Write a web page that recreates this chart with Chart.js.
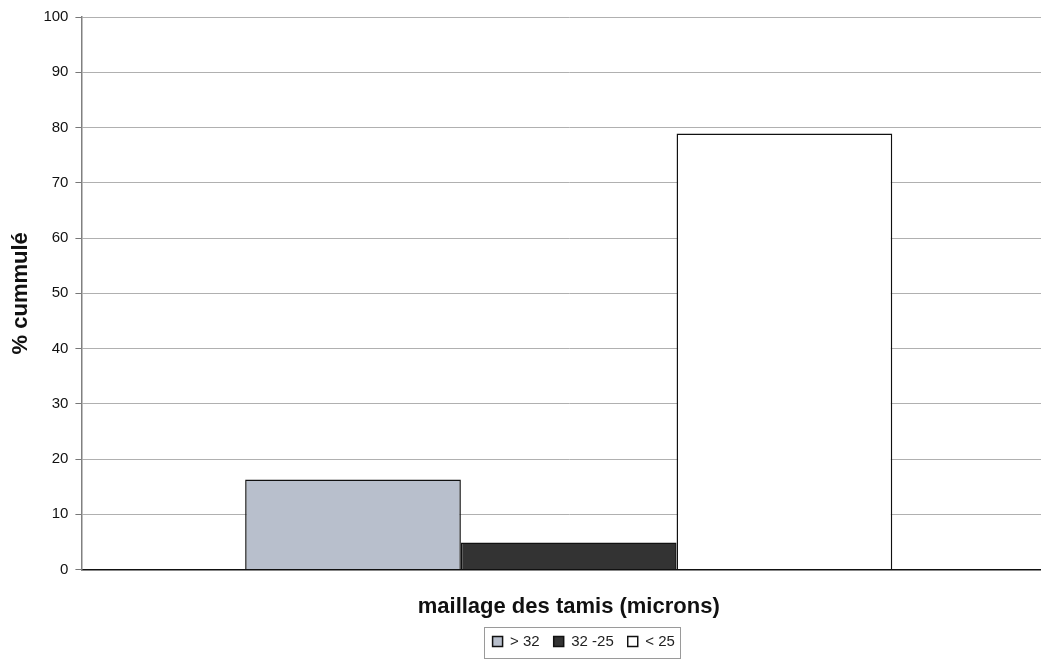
<!DOCTYPE html>
<html>
<head>
<meta charset="utf-8">
<script src="https://cdn.jsdelivr.net/npm/chart.js@4/dist/chart.umd.min.js"></script>
<style>
  html, body { margin: 0; padding: 0; background: #fff; overflow: hidden; }
  #wrap { position: relative; width: 1056px; height: 662px; }
</style>
</head>
<body>
<div id="wrap"><canvas id="c"></canvas></div>
<script>
// Sieve fractions, cumulative percentage per mesh class
const categories = [''];
const seriesLabels = ['> 32', '32 -25', '< 25'];
const fractionAbove32 = [16.3];
const fraction32to25 = [4.9];
const fractionBelow25 = [78.9];
const yTicks = [0, 10, 20, 30, 40, 50, 60, 70, 80, 90, 100];

const fills = ['#b8bfcc', '#333333', '#ffffff'];
const FONT = 'Liberation Sans, Arial, sans-serif';

// Nudges the legend row to the right of the plot centre
const legendShift = {
  id: 'legendShift',
  afterLayout(chart) {
    const lg = chart.legend;
    if (!lg) return;
    lg.left += 15;
    lg.right += 15;
  }
};

// Frame drawn around the legend items
const legendFrame = {
  id: 'legendFrame',
  afterDraw(chart) {
    const lg = chart.legend;
    if (!lg || !lg.legendHitBoxes || !lg.legendHitBoxes.length) return;
    const boxes = lg.legendHitBoxes;
    const left = Math.min(...boxes.map(b => b.left)) - 9;
    const right = Math.max(...boxes.map(b => b.left + b.width)) + 5;
    const cy = boxes[0].top + boxes[0].height / 2;
    const top = cy - 15;
    const bottom = cy + 16;
    const ctx = chart.ctx;
    ctx.save();
    ctx.strokeStyle = '#9a9a9a';
    ctx.lineWidth = 1;
    ctx.strokeRect(Math.round(left) + 0.5, Math.round(top) + 0.5, Math.round(right - left), Math.round(bottom - top));
    ctx.restore();
  }
};

new Chart(document.getElementById('c'), {
  type: 'bar',
  data: {
    labels: categories,
    datasets: [
      { label: seriesLabels[0], data: fractionAbove32, backgroundColor: fills[0] },
      { label: seriesLabels[1], data: fraction32to25, backgroundColor: fills[1] },
      { label: seriesLabels[2], data: fractionBelow25, backgroundColor: fills[2] }
    ].map(d => Object.assign(d, {
      borderColor: '#111',
      borderWidth: 1.5,
      borderSkipped: 'bottom',
      categoryPercentage: 0.664,
      barPercentage: 1.0
    }))
  },
  options: {
    responsive: true,
    maintainAspectRatio: false,
    animation: false,
    layout: { padding: { top: 17, right: 0, bottom: 3, left: 8 } },
    plugins: {
      legend: {
        position: 'bottom',
        fullSize: false,
        labels: {
          boxWidth: 10,
          boxHeight: 10,
          padding: 14,
          color: '#222',
          font: { family: FONT, size: 15 }
        }
      },
      tooltip: { enabled: false }
    },
    scales: {
      x: {
        grid: { display: false, drawTicks: false },
        border: { display: true, color: '#111', width: 1.5 },
        ticks: { display: false },
        title: {
          display: true,
          text: 'maillage des tamis (microns)',
          color: '#111',
          font: { family: FONT, size: 22, weight: 'bold' },
          padding: { top: 24, bottom: 0 }
        }
      },
      y: {
        min: 0,
        max: 100,
        afterBuildTicks(scale) { scale.ticks = yTicks.map(v => ({ value: v })); },
        grid: { color: '#b0b0b0', lineWidth: 1, tickLength: 6, tickColor: '#777' },
        border: { display: true, color: '#808080', width: 1.5 },
        ticks: {
          color: '#111',
          padding: 7,
          font: { family: FONT, size: 15 }
        },
        title: {
          display: true,
          text: '% cummulé',
          color: '#111',
          font: { family: FONT, size: 22, weight: 'bold' },
          padding: { top: 0, bottom: 2 }
        }
      }
    }
  },
  plugins: [legendShift, legendFrame]
});
</script>
</body>
</html>
